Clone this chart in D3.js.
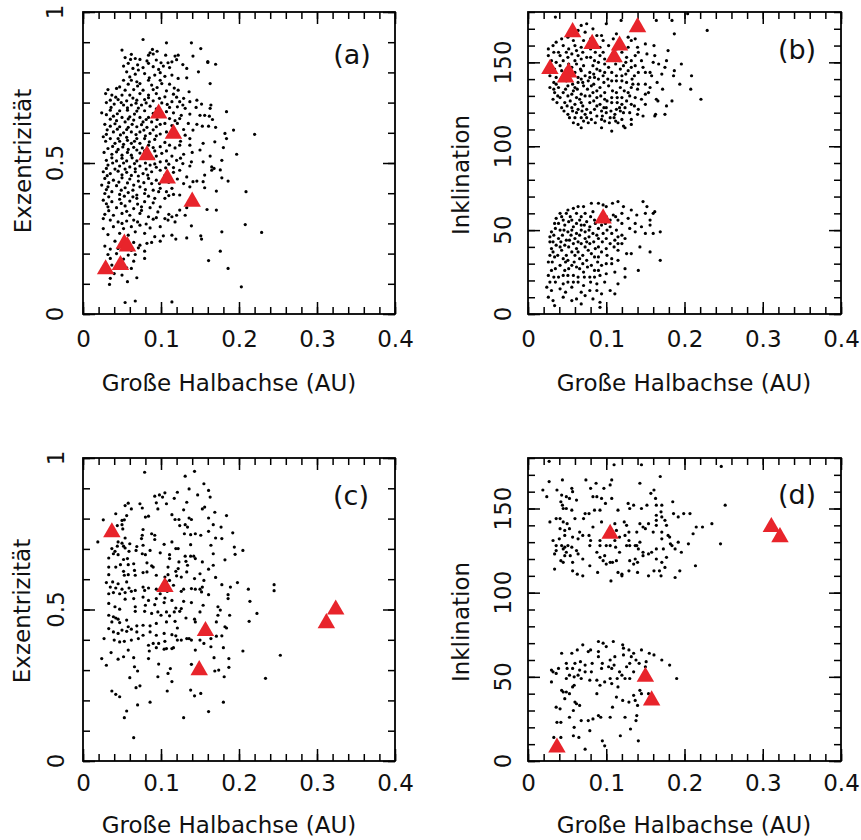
<!DOCTYPE html>
<html>
<head>
<meta charset="utf-8">
<script src="https://cdn.jsdelivr.net/npm/d3@7"></script>
<style>
  body { margin: 0; background: #fff; }
  svg text { font-family: "DejaVu Sans", sans-serif; fill: #111; }
</style>
</head>
<body>
<svg id="chart" width="861" height="840"></svg>
<script>
// Tick labels and axis titles
const xTicks = [0, 0.1, 0.2, 0.3, 0.4];
const xTickLabels = ["0", "0.1", "0.2", "0.3", "0.4"];
const eccTicks = [0, 0.5, 1];
const eccTickLabels = ["0", "0.5", "1"];
const incTicks = [0, 50, 100, 150];
const incTickLabels = ["0", "50", "100", "150"];
const xTitle = "Große Halbachse (AU)";
const eccTitle = "Exzentrizität";
const incTitle = "Inklination";
const panelTags = ["(a)", "(b)", "(c)", "(d)"];

// Flat pairs: semi-major axis in milli-AU, eccentricity in thousandths
const dotsA = [
77,909, 107,898, 139,898, 151,879, 50,874, 89,876, 86,865, 84,857, 90,861, 106,857, 118,854, 122,857, 141,854, 54,849, 61,843, 67,846, 73,843, 82,838, 94,841, 100,832, 109,832, 114,835, 160,833, 170,827, 58,830, 52,821, 64,813, 71,808, 77,816, 90,819, 97,810, 103,821, 111,816, 133,813, 148,802, 56,802, 67,794, 79,796, 92,791, 99,799, 114,791, 122,780, 133,782, 52,774, 62,774, 69,769, 84,774, 99,774, 58,761, 73,763, 88,758, 101,763, 111,761, 163,763, 32,743, 43,747, 54,741, 65,743, 77,741, 90,743, 107,739, 122,741, 136,736, 29,730, 37,725, 50,725, 60,725, 73,730, 84,725, 94,730, 105,719, 116,728, 129,714, 146,708, 35,708, 45,710, 56,706, 69,708, 79,710, 90,706, 101,699, 114,703, 124,703, 137,703, 152,695, 164,692, 40,695, 52,692, 62,692, 75,692, 86,688, 111,684, 121,686, 131,681, 145,684, 163,681, 184,670, 24,666, 35,675, 47,673, 57,675, 69,672, 79,673, 107,670, 116,666, 137,662, 150,658, 156,658, 162,655, 39,655, 50,651, 60,653, 73,651, 84,651, 111,647, 124,647, 166,644, 43,640, 54,636, 65,642, 77,636, 88,636, 105,631, 121,631, 135,631, 153,622, 161,622, 170,618, 35,622, 47,620, 58,618, 69,620, 82,618, 94,620, 129,611, 141,609, 193,609, 182,598, 26,587, 39,603, 52,600, 62,603, 73,603, 86,598, 99,596, 107,603, 131,592, 35,581, 45,581, 56,585, 69,581, 79,581, 92,578, 137,581, 154,565, 169,570, 184,581, 41,565, 52,562, 62,565, 73,565, 84,559, 99,554, 111,559, 124,559, 137,559, 32,548, 45,545, 58,545, 69,543, 79,540, 92,540, 107,540, 150,543, 180,551, 197,529, 37,529, 50,526, 62,526, 94,523, 114,523, 129,529, 163,523, 30,509, 43,507, 56,507, 69,507, 99,504, 107,507, 120,509, 139,504, 154,504, 178,509, 32,493, 47,490, 60,487, 73,490, 86,493, 116,485, 137,490, 165,487,
26,471, 35,465, 45,473, 56,469, 67,471, 77,465, 88,471, 99,476, 116,469, 124,476, 133,454, 146,440, 156,460, 165,476, 168,482, 28,449, 39,443, 50,451, 60,447, 71,440, 84,449, 94,443, 121,447, 129,432, 137,421, 154,438, 178,451, 186,440, 24,427, 32,421, 43,425, 54,418, 65,427, 73,421, 88,432, 99,416, 114,416, 141,438, 28,399, 37,405, 47,396, 58,402, 69,394, 79,399, 90,410, 107,405, 116,396, 156,418, 171,407, 209,405, 26,377, 37,372, 47,380, 60,374, 69,383, 79,372, 92,383, 105,383, 124,394, 32,355, 43,352, 54,358, 65,349, 75,355, 86,352, 99,355, 124,344, 133,352, 159,346, 171,344, 28,330, 39,327, 50,333, 60,327, 73,333, 84,322, 94,319, 105,316, 114,322, 120,327, 131,327, 26,316, 35,311, 45,305, 56,308, 65,311, 90,314, 109,311, 118,305, 39,289, 52,283, 62,289, 73,294, 86,285, 99,289, 139,292, 208,296, 26,283, 47,267, 32,263, 58,261, 67,272, 79,267, 92,256, 103,259, 114,261, 119,248, 133,252, 151,259, 152,248, 178,272, 41,241, 52,245, 65,237, 73,228, 82,234, 88,237, 99,241, 28,225, 35,215, 45,217, 62,211, 71,219, 79,208, 176,208, 32,197, 43,200, 58,195, 67,197, 79,184, 161,177, 35,184, 52,182, 65,175, 37,162, 56,153, 62,151, 186,151, 40,134, 50,129, 69,120, 35,118, 57,107, 34,98, 203,90, 54,38, 67,43, 114,40,
220,595, 229,270, 176,477, 160,836,
60,785, 85,782, 105,787, 47,752, 70,755, 95,750, 117,748, 42,718, 64,715, 84,716, 98,714, 120,718, 30,700, 49,700, 68,698, 81,699, 108,694, 36,684, 57,683, 71,682, 94,679, 128,692, 30,660, 44,663, 66,662, 90,664, 101,660, 126,658, 35,645, 58,646, 81,644, 95,644, 118,640, 28,628, 41,630, 63,628, 75,627, 99,628, 114,624, 146,628, 31,610, 44,612, 56,611, 78,609, 90,610, 117,612, 30,595, 48,593, 68,594, 80,590, 94,590, 120,598, 29,572, 47,572, 57,575, 66,572, 85,570, 105,568, 125,572, 38,555, 51,553, 65,552, 76,550, 90,551, 118,550, 27,535, 43,537, 57,535, 73,533, 85,532, 101,532, 140,535, 37,517, 50,516, 63,517, 78,518, 90,515, 125,516, 38,500, 52,500, 66,498, 80,500, 92,497, 110,496, 128,498, 30,482, 41,480, 54,480, 67,481, 81,480, 94,486, 106,484, 31,458, 50,461, 62,459, 71,457, 83,460, 105,459, 33,435, 46,437, 57,434, 78,435, 98,432, 110,436, 30,412, 49,410, 64,410, 80,412, 97,405, 33,388, 53,390, 64,388, 84,390, 110,392, 30,365, 49,366, 70,364, 90,368, 33,342, 56,340, 75,343, 96,338, 110,330, 50,300, 70,305, 81,298, 70,825, 84,830, 62,860, 95,870, 120,842, 128,826
];
const triA = [97,664, 116,597, 82,526, 108,449, 140,372, 53,233, 57,224, 48,162, 29,148];

// Flat pairs: semi-major axis in milli-AU, inclination in degrees
const dotsB = [
35,177, 100,173, 119,175, 204,179, 164,175, 184,175, 229,169, 187,167, 68,172, 75,173, 83,170, 64,169, 73,168, 88,166, 94,166, 113,167, 137,170, 128,165, 43,164, 51,165, 36,162, 71,163, 96,163, 109,164, 132,163, 137,164, 150,161, 161,160, 32,160, 45,160, 60,160, 68,159, 92,159, 103,160, 128,159, 140,159, 179,157, 26,158, 39,156, 49,156, 62,157, 96,156, 120,156, 141,156, 152,155, 26,154, 41,154, 51,153, 64,154, 75,153, 92,154, 126,153, 137,154, 162,154, 196,149, 30,151, 60,151, 85,151, 98,152, 132,151, 160,150, 167,149, 177,151, 28,148, 41,148, 62,149, 71,148, 83,148, 98,149, 122,148, 137,148, 147,147, 156,144, 175,147, 43,145, 68,145, 79,144, 92,145, 98,144, 107,144, 128,145, 141,144, 171,143, 187,145, 209,142, 28,142, 36,141, 56,142, 64,141, 73,142, 85,141, 96,142, 120,142, 136,142, 158,142, 186,142, 33,138, 49,139, 64,138, 77,139, 107,139, 113,139, 126,138, 141,137, 150,137, 194,137, 28,135, 39,135, 51,136, 60,135, 71,136, 81,136, 92,135, 103,136, 118,135, 132,135, 156,135, 172,134, 208,134, 34,132, 45,132, 58,133, 68,131, 83,132, 98,132, 113,132, 128,132, 150,131, 154,132, 41,129, 51,130, 62,129, 73,130, 88,129, 98,128, 107,129, 120,129, 137,129, 164,128, 184,127, 221,128, 32,128, 47,126, 60,125, 68,126, 79,126, 92,125, 107,126, 120,125, 132,125, 177,124, 166,127, 43,123, 56,123, 64,122, 75,122, 85,122, 100,123, 113,122, 124,123, 141,122, 51,119, 62,120, 73,119, 88,118, 100,120, 111,119, 122,120, 163,119, 175,119, 53,117, 68,117, 81,116, 94,116, 105,117, 120,116, 132,116, 147,118, 162,118, 64,113, 77,114, 98,115, 115,114, 122,112, 132,113, 68,111, 94,111, 107,109, 124,111,
58,163, 80,164, 118,162, 52,158, 80,158, 113,158, 33,156, 56,155, 70,156, 86,156, 108,155, 45,151, 68,152, 80,153, 104,152, 117,151, 36,150, 52,149, 90,150, 112,149, 125,150, 145,151, 34,146, 56,147, 67,146, 88,146, 103,147, 118,146, 132,147, 48,143, 60,144, 84,143, 113,142, 125,143, 150,144, 42,140, 68,140, 79,141, 90,140, 102,140, 120,139, 133,140, 36,137, 57,137, 70,138, 84,137, 97,138, 134,137, 165,138, 33,134, 48,134, 63,134, 76,134, 88,133, 108,133, 123,133, 140,134, 38,130, 56,131, 79,130, 93,130, 114,129, 130,130, 145,128, 37,126, 54,127, 66,128, 84,127, 101,127, 114,126, 126,127, 50,124, 70,124, 88,124, 97,123, 117,123, 136,124, 150,125, 46,121, 57,121, 69,121, 80,120, 94,121, 106,121, 118,121, 130,120, 60,117, 75,117, 95,118, 110,117, 140,119, 58,114, 71,115, 86,114, 104,114, 112,115,
90,66, 96,65, 100,64, 108,66, 115,67, 122,64, 132,62, 147,67, 152,64, 58,63, 64,64, 71,64, 81,66, 51,62, 41,60, 49,60, 62,60, 73,60, 83,61, 109,59, 120,60, 128,57, 139,59, 150,60, 160,60, 36,57, 45,56, 56,56, 66,56, 75,55, 85,56, 105,56, 115,56, 156,56, 34,54, 47,53, 58,52, 68,53, 79,52, 94,53, 105,52, 137,54, 145,52, 156,53, 30,49, 41,50, 51,49, 62,48, 73,49, 83,48, 96,48, 107,48, 120,47, 137,49, 150,48, 160,48, 28,46, 39,45, 49,44, 60,45, 73,45, 90,45, 100,45, 111,44, 124,45, 28,43, 36,41, 47,41, 58,42, 68,42, 79,42, 90,40, 105,42, 115,42, 132,36, 143,40, 156,37, 32,37, 43,38, 56,37, 64,37, 77,38, 94,37, 115,38, 126,36, 34,34, 45,33, 51,32, 66,33, 75,32, 85,34, 107,33, 115,32, 169,32, 26,31, 41,29, 56,29, 62,28, 81,29, 94,29, 107,30, 124,27, 30,26, 47,26, 71,25, 85,26, 100,24, 111,25, 141,26, 26,23, 39,22, 51,23, 64,22, 79,22, 92,23, 124,22, 28,19, 45,18, 58,19, 71,17, 88,18, 98,19, 115,18, 24,16, 41,15, 56,16, 79,14, 105,14, 26,10, 32,8, 45,10, 62,9, 73,11, 94,12, 83,9, 92,7, 34,5, 56,8, 92,4, 68,6, 111,12, 169,49, 162,61,
43,58, 54,58, 68,58, 80,58, 100,58, 112,58, 39,54, 52,55, 62,54, 72,53, 86,54, 99,54, 120,54, 35,51, 46,50, 56,50, 68,50, 78,50, 90,51, 101,50, 113,50, 130,51, 33,47, 44,47, 55,47, 66,47, 78,46, 88,47, 115,46, 32,43, 42,43, 53,44, 64,43, 75,43, 84,43, 95,43, 120,42, 30,39, 41,40, 52,40, 62,39, 73,40, 86,39, 100,39, 110,40, 28,35, 38,35, 49,35, 60,35, 70,35, 81,36, 90,34, 101,35, 31,31, 48,31, 59,31, 70,30, 89,31, 100,30, 35,27, 52,27, 66,27, 76,28, 90,26, 33,22, 45,23, 58,23, 72,22, 85,22, 35,19, 51,19, 64,19, 80,19, 30,14, 48,13, 68,13, 88,14
];
const triB = [57,168, 82,161, 117,160, 110,153, 140,171, 28,146, 52,144, 48,141, 96,57];

// Flat pairs: semi-major axis in milli-AU, eccentricity in thousandths
const dotsC = [
79,953, 143,956, 131,940, 155,915, 136,898, 161,893, 105,885, 98,878, 92,874, 102,871, 121,887, 117,867, 147,878, 163,871, 73,849, 58,851, 54,843, 94,852, 107,849, 133,854, 62,832, 76,835, 96,832, 129,829, 153,832, 156,838, 169,821, 184,810, 42,816, 56,810, 53,796, 80,805, 84,808, 114,813, 118,797, 123,797, 136,802, 139,797, 26,796, 50,794, 161,802, 44,777, 50,780, 51,766, 77,764, 131,780, 124,777, 134,772, 167,780, 177,772, 192,753, 76,745, 88,750, 92,745, 54,736, 75,734, 130,750, 138,747, 144,750, 151,745, 161,758, 170,736, 178,734, 19,723, 45,723, 50,719, 44,709, 52,709, 54,703, 60,717, 69,708, 77,712, 92,731, 104,715, 114,723, 119,701, 122,701, 138,714, 164,712, 194,706, 205,695, 37,701, 41,692, 59,692, 68,695, 39,684, 45,681, 57,668, 52,665, 76,684, 80,681, 86,695, 99,687, 111,681, 131,676, 138,676, 142,676, 167,684, 195,682, 33,670, 48,648, 58,648, 65,651, 82,654, 88,644, 111,668, 123,657, 132,659, 134,646, 144,668, 153,657, 167,646, 182,664, 33,640, 42,640, 52,626, 66,629, 77,622, 90,640, 109,640, 119,626, 109,615, 133,624, 122,635, 150,618, 161,633, 170,606, 33,615, 53,613, 58,615, 67,613, 82,624, 94,613, 105,607, 120,611, 126,607, 143,602, 155,596, 30,589, 38,591, 45,585, 56,591, 77,574, 84,571, 94,567, 103,578, 107,591, 111,596, 116,580, 129,567, 144,567, 152,558, 178,582, 189,574, 198,589, 212,567, 35,574, 42,571, 50,567, 59,571, 67,563, 79,563, 99,552, 108,560, 126,560, 139,569, 150,567, 153,574, 161,549, 186,549, 33,552, 39,556, 47,552, 54,556, 62,560, 54,534, 65,536, 77,541, 84,530, 94,536, 105,538, 114,530, 129,527, 139,523, 186,536, 214,527, 33,520, 41,509, 47,501, 67,509, 80,514, 92,516, 104,523, 119,505, 126,503, 154,514, 173,509, 176,498, 33,481, 39,476, 42,472, 45,468, 56,465, 67,494, 79,494, 88,487, 96,492, 100,481, 107,492, 111,479, 117,492, 124,494, 132,472, 143,468, 150,492, 173,481, 188,481, 223,487, 213,461, 37,459, 47,457, 58,443, 69,446, 77,448, 86,446, 94,454, 107,459, 118,461, 121,439, 144,459, 171,459, 182,443, 184,439, 33,437, 39,426, 45,421, 50,432, 56,428, 62,435, 69,426, 77,415, 86,426, 94,415, 104,421, 114,417, 119,413, 126,399, 133,404, 139,399, 150,399, 164,404, 171,412, 178,413, 27,404, 40,399, 47,393, 53,395, 62,399, 71,404, 84,382, 90,388, 97,388, 105,395, 107,371, 116,374, 121,399, 136,404, 155,388, 164,377, 180,374, 205,363, 36,358, 45,336, 52,344, 58,366, 65,341, 85,363, 94,374, 104,369, 114,371, 144,366, 24,338, 30,316, 66,311, 70,297, 84,338, 97,320, 112,305, 96,278, 109,289, 139,319, 168,341, 169,297, 174,300, 181,278, 187,309, 187,338, 60,275, 114,262, 73,248, 68,242, 37,231, 42,220, 47,212, 108,231, 138,234, 143,215, 151,223, 180,194, 70,185, 86,194, 56,165, 53,143, 129,143, 161,163, 65,77, 234,273, 245,582, 245,562, 253,349
];
const triC = [37,755, 105,574, 157,429, 149,300, 312,455, 324,500];

// Flat pairs: semi-major axis in milli-AU, inclination in degrees
const dotsD = [
27,178, 110,176, 145,176, 247,175, 169,169, 27,166, 44,167, 37,161, 56,162, 74,167, 87,165, 107,167, 105,164, 97,162, 80,162, 57,160, 24,157, 19,161, 43,158, 49,157, 53,156, 62,155, 83,157, 88,157, 94,156, 107,156, 143,165, 161,161, 157,159, 163,156, 42,154, 44,152, 56,149, 73,147, 78,147, 85,149, 92,149, 99,153, 115,149, 130,150, 128,153, 135,152, 145,150, 152,152, 164,152, 171,152, 185,154, 252,152, 45,150, 49,150, 186,147, 192,145, 199,147, 207,147, 164,146, 170,148, 171,145, 175,143, 164,143, 36,144, 41,144, 28,142, 45,142, 50,141, 60,144, 71,144, 94,142, 111,141, 123,142, 126,140, 147,139, 143,141, 154,141, 164,140, 177,140, 215,139, 223,139, 235,141, 41,138, 47,137, 53,138, 66,136, 70,134, 78,134, 83,139, 113,137, 124,134, 129,136, 139,136, 150,138, 160,136, 171,136, 179,134, 181,133, 211,135, 32,131, 40,132, 47,134, 57,133, 64,132, 80,131, 92,131, 105,128, 111,131, 117,133, 129,131, 137,128, 143,130, 171,132, 192,130, 182,129, 205,129, 246,129, 36,128, 43,128, 47,127, 51,128, 56,127, 62,125, 45,126, 36,125, 49,124, 79,128, 92,128, 100,128, 112,127, 117,124, 126,128, 130,128, 139,128, 141,126, 147,124, 154,123, 158,124, 164,126, 173,126, 184,128, 188,126, 196,124, 34,123, 47,122, 54,122, 64,123, 70,120, 88,124, 92,121, 98,122, 105,118, 108,118, 113,119, 130,119, 137,120, 135,117, 140,118, 147,122, 164,120, 177,121, 171,118, 57,118, 42,119, 45,118, 34,114, 79,116, 96,119, 100,117, 115,112, 120,110, 129,113, 140,112, 154,110, 161,113, 168,113, 175,115, 188,109, 194,113, 214,116, 57,113, 63,111, 70,110, 89,112, 106,107, 120,111, 170,110,
90,71, 96,70, 109,71, 121,69, 100,68, 70,69, 80,66, 77,65, 63,66, 56,64, 43,64, 90,65, 122,67, 129,66, 145,66, 155,64, 161,63, 171,60, 181,57, 135,64, 132,62, 138,60, 122,63, 111,62, 105,60, 95,58, 90,62, 82,58, 73,57, 67,59, 60,58, 49,58, 57,55, 50,55, 39,55, 32,53, 30,54, 36,52, 66,54, 73,53, 81,53, 94,55, 103,56, 107,55, 110,57, 117,53, 120,51, 126,56, 130,58, 142,58, 150,56, 151,59, 135,53, 130,49, 124,49, 114,49, 105,49, 98,47, 88,48, 79,48, 68,49, 64,51, 59,50, 53,51, 49,49, 30,47, 59,45, 57,44, 92,45, 107,46, 115,44, 143,42, 145,40, 154,40, 135,39, 88,40, 190,49, 43,42, 45,41, 49,41, 53,40, 47,37, 121,36, 129,35, 137,36, 113,38, 140,33, 108,32, 60,35, 62,34, 66,33, 36,32, 41,31, 58,30, 83,25, 77,24, 90,27, 105,26, 53,26, 37,23, 42,23, 68,24, 93,26, 124,26, 138,24, 139,27, 131,19, 79,18, 59,20, 58,15, 118,15, 65,14, 95,12, 98,9, 73,7, 141,12, 33,14, 42,14
];
const triD = [105,135, 311,139, 322,133, 150,50, 158,36, 37,8];

// Turn a flat list into [x, y] points in axis units
function toPoints(flat, xUnit, yUnit) {
  const pts = [];
  for (let i = 0; i < flat.length; i += 2) pts.push([flat[i] * xUnit, flat[i + 1] * yUnit]);
  return pts;
}

const svg = d3.select("#chart");
const FONT = 23;
const RED = "#e8242b";

const panels = [
  { dots: dotsA, tris: triA, yUnit: 0.001, yMax: 1, yTicks: eccTicks, yLabels: eccTickLabels, yMinorStep: 0.1, yTitle: eccTitle, tag: panelTags[0],
    left: 83, right: 395, top: 12, bottom: 314, xLabPad: 17, xTitleX: 229, xTitleY: 383, yLabX: 55, yTitleX: 22.5, yTitleY: 161, tagX: 352, tagY: 54 },
  { dots: dotsB, tris: triB, yUnit: 1, yMax: 180, yTicks: incTicks, yLabels: incTickLabels, yMinorStep: 10, yTitle: incTitle, tag: panelTags[1],
    left: 528, right: 841, top: 12, bottom: 314, xLabPad: 17, xTitleX: 684, xTitleY: 383, yLabX: 503, yTitleX: 461, yTitleY: 175, tagX: 797, tagY: 49 },
  { dots: dotsC, tris: triC, yUnit: 0.001, yMax: 1, yTicks: eccTicks, yLabels: eccTickLabels, yMinorStep: 0.1, yTitle: eccTitle, tag: panelTags[2],
    left: 83, right: 395, top: 458, bottom: 761, xLabPad: 14, xTitleX: 229, xTitleY: 825, yLabX: 56, yTitleX: 22, yTitleY: 611, tagX: 351, tagY: 495 },
  { dots: dotsD, tris: triD, yUnit: 1, yMax: 180, yTicks: incTicks, yLabels: incTickLabels, yMinorStep: 10, yTitle: incTitle, tag: panelTags[3],
    left: 528, right: 841, top: 458, bottom: 761, xLabPad: 14, xTitleX: 684, xTitleY: 825, yLabX: 503, yTitleX: 461, yTitleY: 622, tagX: 797, tagY: 494 }
];

const MAJOR = 12, MINOR = 7;

function styleAxis(sel) {
  sel.select(".domain").remove();
  sel.selectAll("line").attr("stroke", "#000").attr("stroke-width", 1.5);
  sel.attr("font-size", FONT).attr("font-family", "DejaVu Sans").attr("color", "#111");
}

panels.forEach(p => {
  const x = d3.scaleLinear().domain([0, 0.4]).range([p.left, p.right]);
  const y = d3.scaleLinear().domain([0, p.yMax]).range([p.bottom, p.top]);
  const g = svg.append("g");

  const xMinor = d3.range(0, 0.4 + 1e-9, 0.02);
  const yMinor = d3.range(0, p.yMax + 1e-9, p.yMinorStep);

  // Inward minor ticks on all four sides
  g.append("g").attr("transform", `translate(0,${p.bottom})`)
    .call(d3.axisBottom(x).tickValues(xMinor).tickSize(-MINOR).tickFormat("")).call(styleAxis);
  g.append("g").attr("transform", `translate(0,${p.top})`)
    .call(d3.axisTop(x).tickValues(xMinor).tickSize(-MINOR).tickFormat("")).call(styleAxis);
  g.append("g").attr("transform", `translate(${p.left},0)`)
    .call(d3.axisLeft(y).tickValues(yMinor).tickSize(-MINOR).tickFormat("")).call(styleAxis);
  g.append("g").attr("transform", `translate(${p.right},0)`)
    .call(d3.axisRight(y).tickValues(yMinor).tickSize(-MINOR).tickFormat("")).call(styleAxis);

  // Longer major ticks; labelled along the bottom
  g.append("g").attr("transform", `translate(0,${p.bottom})`)
    .call(d3.axisBottom(x).tickValues(xTicks).tickSize(-MAJOR).tickPadding(p.xLabPad)
      .tickFormat((d, i) => xTickLabels[i])).call(styleAxis);
  g.append("g").attr("transform", `translate(0,${p.top})`)
    .call(d3.axisTop(x).tickValues(xTicks).tickSize(-MAJOR).tickFormat("")).call(styleAxis);
  g.append("g").attr("transform", `translate(${p.left},0)`)
    .call(d3.axisLeft(y).tickValues(p.yTicks).tickSize(-MAJOR).tickFormat("")).call(styleAxis);
  g.append("g").attr("transform", `translate(${p.right},0)`)
    .call(d3.axisRight(y).tickValues(p.yTicks).tickSize(-MAJOR).tickFormat("")).call(styleAxis);

  // Y tick labels run parallel to the axis
  g.selectAll(".ylab").data(p.yTicks).join("text")
    .attr("class", "ylab")
    .attr("transform", d => `translate(${p.yLabX},${y(d)}) rotate(-90)`)
    .attr("text-anchor", "middle").attr("dy", "0.36em")
    .attr("font-size", FONT)
    .text((d, i) => p.yLabels[i]);

  // Frame
  g.append("rect")
    .attr("x", p.left).attr("y", p.top)
    .attr("width", p.right - p.left).attr("height", p.bottom - p.top)
    .attr("fill", "none").attr("stroke", "#000").attr("stroke-width", 1.8);

  // Axis titles
  g.append("text").attr("x", p.xTitleX).attr("y", p.xTitleY)
    .attr("text-anchor", "middle").attr("dy", "0.36em").attr("font-size", FONT)
    .text(xTitle);
  g.append("text")
    .attr("transform", `translate(${p.yTitleX},${p.yTitleY}) rotate(-90)`)
    .attr("text-anchor", "middle").attr("dy", "0.36em").attr("font-size", FONT)
    .text(p.yTitle);

  // Panel tag
  g.append("text").attr("x", p.tagX).attr("y", p.tagY)
    .attr("text-anchor", "middle").attr("dy", "0.36em").attr("font-size", 27)
    .text(p.tag);

  // Simulated objects
  g.append("g").selectAll("circle").data(toPoints(p.dots, 0.001, p.yUnit)).join("circle")
    .attr("cx", d => x(d[0])).attr("cy", d => y(d[1])).attr("r", 1.6).attr("fill", "#000");

  // Observed objects
  const tri = d3.symbol(d3.symbolTriangle, 132);
  g.append("g").selectAll("path").data(toPoints(p.tris, 0.001, p.yUnit)).join("path")
    .attr("d", tri)
    .attr("transform", d => `translate(${x(d[0])},${y(d[1])})`)
    .attr("fill", RED);
});
</script>
</body>
</html>
